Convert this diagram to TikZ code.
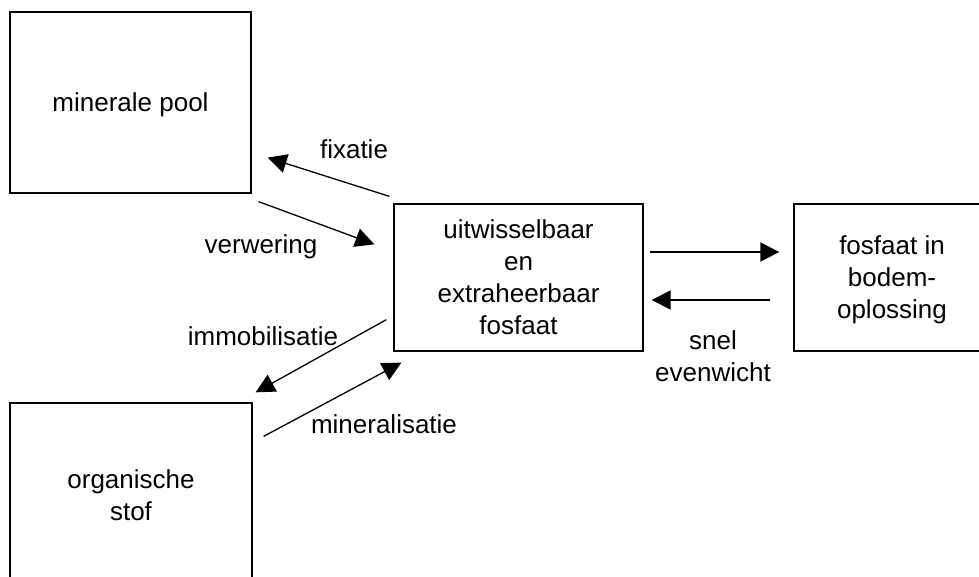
\documentclass[tikz,border=0pt]{standalone}
\usepackage{fontspec}
\setmainfont{Liberation Sans}
\usetikzlibrary{calc,arrows.meta}

\tikzset{
    vak/.style={draw, line width=1.3pt, align=center, inner sep=0pt, text depth=0pt},
    pijl/.style={line width=1.3pt, -{Triangle[length=19pt,width=19pt]}}
}

\begin{document}
\begin{tikzpicture}[x=1pt,y=-1pt, every node/.style={font=\fontsize{26}{32}\selectfont}]
    \useasboundingbox (0,0) rectangle (979,576);
    % vakken
    \node[vak, minimum width=241pt, minimum height=181pt] (pool) at (130.5,102.5) {minerale pool};
    \node[vak, minimum width=242pt, minimum height=185pt] (stof) at (131,495.5) {organische\\stof};
    \node[vak, minimum width=249pt, minimum height=147pt] (uitw) at (518.5,277.5) {uitwisselbaar\\en\\extraheerbaar\\fosfaat};
    \node[vak, minimum width=196pt, minimum height=147pt] (opl) at (892,277.5) {fosfaat in\\bodem-\\oplossing};
    % pijlen
    \draw[pijl] ($(uitw.north west)+(-4,-7)$) -- ($(pool.south east)+(16,-36)$);
    \draw[pijl] ($(pool.south east)+(7,8)$) -- ($(uitw.north west)+(-19,41)$);
    \draw[pijl] ($(uitw.south west)+(-7,-32)$) -- ($(stof.north east)+(3,-10)$);
    \draw[pijl] ($(stof.north east)+(11,34)$) -- ($(uitw.south west)+(8,11)$);
    \draw[pijl] ($(uitw.east)+(6,-25.5)$) -- ($(opl.west)+(-14,-25.5)$);
    \draw[pijl] ($(opl.west)+(-23,22.5)$) -- ($(uitw.east)+(8,22.5)$);
    % bijschriften
    \node[anchor=base] (fixatie) at (354,158) {fixatie};
    \node[anchor=base] (verwering) at (261,253) {verwering};
    \node[anchor=base] (immob) at (263,345) {immobilisatie};
    \node[anchor=base] (miner) at (384,433) {mineralisatie};
    \node[align=center, text depth=0pt] (snel) at (713,356) {snel\\evenwicht};
\end{tikzpicture}
\end{document}
